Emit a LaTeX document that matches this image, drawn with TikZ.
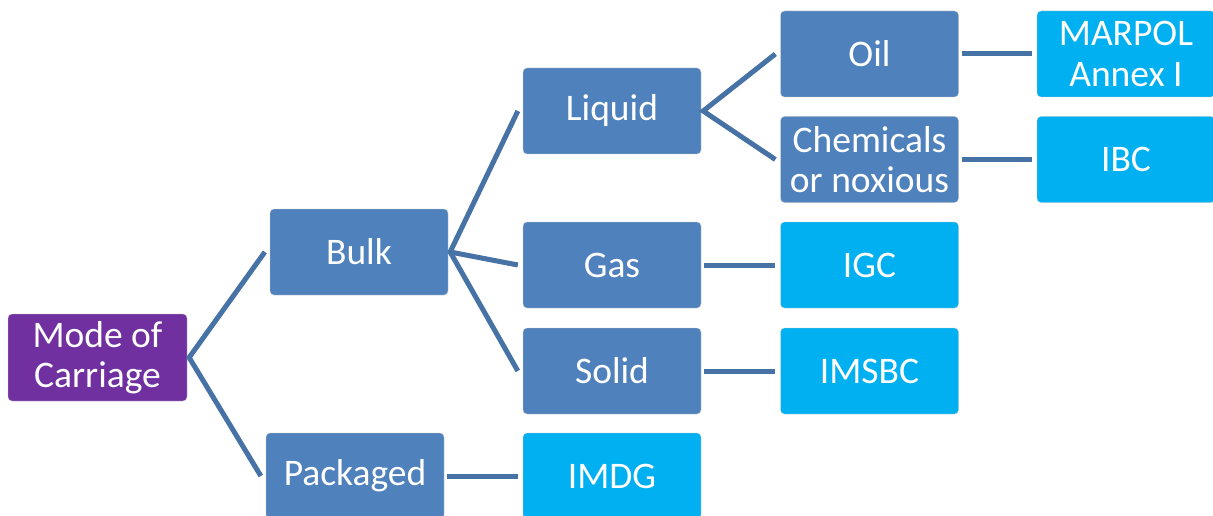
\documentclass[tikz,border=0pt]{standalone}
\usepackage{fontspec}
\setmainfont{Carlito}
\definecolor{boxblue}{RGB}{79,129,189}
\definecolor{boxcyan}{RGB}{0,176,240}
\definecolor{boxpurple}{RGB}{112,48,160}
\definecolor{linkblue}{RGB}{70,114,166}
\tikzset{
  bx/.style={rectangle, rounded corners=4pt, minimum width=178pt, minimum height=86pt,
    inner sep=0pt, align=center, text=white, font=\fontsize{37.5}{40.5}\selectfont,
    draw=white!80!black, line width=0.3pt},
  blue box/.style={bx, fill=boxblue},
  cyan box/.style={bx, fill=boxcyan},
  purple box/.style={bx, fill=boxpurple, minimum width=179pt, minimum height=87pt},
  link/.style={draw=linkblue, line width=5pt}
}
\begin{document}
\begin{tikzpicture}[x=1pt,y=-1pt]
\clip (0,0) rectangle (1213,516);
\fill[white] (0,0) rectangle (1213,516);
\node[purple box] (mode) at (97.5,357.5) {Mode of\\Carriage};
\node[blue box] (bulk) at (359,252) {Bulk};
\node[blue box] (pack) at (355,476) {Packaged};
\node[blue box] (liquid) at (612,111) {Liquid};
\node[blue box] (gas) at (612,265) {Gas};
\node[blue box] (solid) at (612,371) {Solid};
\node[cyan box] (imdg) at (612,476) {IMDG};
\node[blue box] (oil) at (869.5,54) {Oil};
\node[blue box] (chem) at (869.5,159.5) {Chemicals\\or noxious};
\node[cyan box] (igc) at (869.5,265) {IGC};
\node[cyan box] (imsbc) at (869.5,371) {IMSBC};
\node[cyan box] (marpol) at (1126,54) {MARPOL\\Annex I};
\node[cyan box] (ibc) at (1126,159.5) {IBC};
% connectors
\coordinate (m0) at ([xshift=2pt]mode.east);
\draw[link] ([xshift=-5pt]bulk.west) -- (m0) -- ([xshift=-5pt]pack.west);
\coordinate (b0) at ([xshift=2pt]bulk.east);
\draw[link] ([xshift=-5pt]liquid.west) -- (b0) -- ([xshift=-5pt]solid.west);
\draw[link] (b0) -- ([xshift=-5pt]gas.west);
\coordinate (l0) at ([xshift=2pt]liquid.east);
\draw[link] ([xshift=-5pt]oil.west) -- (l0) -- ([xshift=-5pt]chem.west);
\draw[link] ([xshift=3pt]pack.east) -- ([xshift=-5pt]imdg.west);
\draw[link] ([xshift=3pt]gas.east) -- ([xshift=-5pt]igc.west);
\draw[link] ([xshift=3pt]solid.east) -- ([xshift=-5pt]imsbc.west);
\draw[link] ([xshift=3pt]oil.east) -- ([xshift=-5pt]marpol.west);
\draw[link] ([xshift=3pt]chem.east) -- ([xshift=-5pt]ibc.west);
\end{tikzpicture}
\end{document}
